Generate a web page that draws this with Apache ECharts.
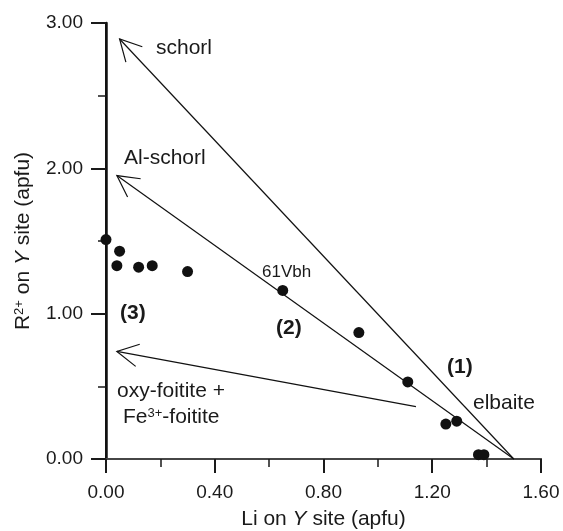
<!DOCTYPE html>
<html>
<head>
<meta charset="utf-8">
<script src="https://cdn.jsdelivr.net/npm/echarts@6/dist/echarts.min.js"></script>
<style>
  html, body { margin: 0; padding: 0; background: #fff; }
  #chart { width: 563px; height: 531px; }
</style>
</head>
<body>
<div id="chart"></div>
<script>
// measured compositions (apfu)
const liValues = [0.00, 0.05, 0.04, 0.12, 0.17, 0.30, 0.65, 0.93, 1.11, 1.25, 1.29, 1.37, 1.39];
const r2Values = [1.51, 1.43, 1.33, 1.32, 1.33, 1.29, 1.16, 0.87, 0.53, 0.24, 0.26, 0.03, 0.03];

// substitution vectors: arrow tip -> start
const trendTips = [[0.05, 2.89], [0.04, 1.95], [0.04, 0.74]];
const trendTails = [[1.50, 0.00], [1.50, 0.00], [1.14, 0.36]];

const xTicks = [0, 0.4, 0.8, 1.2, 1.6];
const yTicks = [0, 1, 2, 3];

const font = 'Liberation Sans, Arial, sans-serif';
const ink = '#1a1a1a';

const chart = echarts.init(document.getElementById('chart'));

const points = liValues.map((v, i) => [v, r2Values[i]]);
const arrows = trendTips.map((t, i) => [t[0], t[1], trendTails[i][0], trendTails[i][1]]);

function note(text, x, y, weight, size) {
    return {
        type: 'text', x: x, y: y, z: 10,
        style: {
            text: text, fill: ink,
            font: (weight || 'normal') + ' ' + (size || 21) + 'px ' + font,
            verticalAlign: 'middle', align: 'left'
        }
    };
}

const option = {
    animation: false,
    backgroundColor: '#fff',
    grid: { left: 106, right: 22, top: 23, bottom: 72, outerBoundsMode: 'none', containLabel: false },
    xAxis: [
        {
            type: 'value', min: xTicks[0], max: xTicks[xTicks.length - 1], interval: 0.4,
            name: 'Li on {i|Y} site (apfu)',
            nameLocation: 'middle', nameGap: 50,
            nameTextStyle: {
                color: ink, fontSize: 21, fontFamily: font, verticalAlign: 'top',
                rich: { i: { fontStyle: 'italic', fontSize: 21, fontFamily: font, color: ink } }
            },
            axisLine: { show: true, onZero: false, lineStyle: { color: ink, width: 2 } },
            axisTick: { show: true, inside: false, length: 14, lineStyle: { color: ink, width: 2 } },
            minorTick: { show: true, splitNumber: 2, length: 8, lineStyle: { color: ink, width: 1.5 } },
            axisLabel: { color: ink, fontSize: 19, fontFamily: font, margin: 24,
                formatter: v => v.toFixed(2) },
            splitLine: { show: false }
        },
        {
            type: 'value', position: 'top', min: xTicks[0], max: xTicks[xTicks.length - 1],
            axisLine: { show: true, lineStyle: { color: '#555', width: 1.5 } },
            axisTick: { show: false }, axisLabel: { show: false }, splitLine: { show: false }
        }
    ],
    yAxis: [
        {
            type: 'value', min: yTicks[0], max: yTicks[yTicks.length - 1], interval: 1,
            name: 'R{sup|2+} on {i|Y} site (apfu)',
            nameLocation: 'middle', nameGap: 72,
            nameTextStyle: {
                color: ink, fontSize: 21, fontFamily: font,
                rich: {
                    i: { fontStyle: 'italic', fontSize: 21, fontFamily: font, color: ink },
                    sup: { fontSize: 13, fontFamily: font, color: ink, verticalAlign: 'top', padding: [0, 0, 8, 0] }
                }
            },
            axisLine: { show: true, onZero: false, lineStyle: { color: ink, width: 2 } },
            axisTick: { show: true, inside: false, length: 15, lineStyle: { color: ink, width: 2 } },
            minorTick: { show: true, splitNumber: 2, length: 8, lineStyle: { color: ink, width: 1.5 } },
            axisLabel: { color: ink, fontSize: 19, fontFamily: font, margin: 23,
                formatter: v => v.toFixed(2) },
            splitLine: { show: false }
        },
        {
            type: 'value', position: 'right', min: yTicks[0], max: yTicks[yTicks.length - 1],
            axisLine: { show: true, lineStyle: { color: '#111', width: 2.5 } },
            axisTick: { show: false }, axisLabel: { show: false }, splitLine: { show: false }
        }
    ],
    series: [
        {
            type: 'custom',
            clip: false,
            data: arrows,
            encode: { x: [0, 2], y: [1, 3] },
            renderItem: function (params, api) {
                const tip = api.coord([api.value(0), api.value(1)]);
                const tail = api.coord([api.value(2), api.value(3)]);
                const ang = Math.atan2(tail[1] - tip[1], tail[0] - tip[0]);
                const len = 24, spread = 28 * Math.PI / 180;
                const b1 = [tip[0] + len * Math.cos(ang - spread), tip[1] + len * Math.sin(ang - spread)];
                const b2 = [tip[0] + len * Math.cos(ang + spread), tip[1] + len * Math.sin(ang + spread)];
                return {
                    type: 'group',
                    children: [
                        { type: 'line', shape: { x1: tip[0], y1: tip[1], x2: tail[0], y2: tail[1] },
                          style: { stroke: '#111', lineWidth: 1.2 } },
                        { type: 'polyline', shape: { points: [b1, tip, b2] },
                          style: { stroke: '#111', fill: null, lineWidth: 1.2 } }
                    ]
                };
            }
        },
        {
            type: 'scatter',
            data: points,
            symbol: 'circle',
            symbolSize: 11,
            itemStyle: { color: '#111', opacity: 1 },
            z: 5
        }
    ],
    graphic: [
        note('schorl', 156, 48),
        note('Al-schorl', 124, 158),
        note('61Vbh', 262, 272, 'normal', 17),
        note('(3)', 120, 313, 'bold'),
        note('(2)', 276, 328, 'bold'),
        note('(1)', 447, 367, 'bold'),
        note('elbaite', 473, 403),
        note('oxy-foitite +', 117, 391),
        {
            type: 'text', x: 123, y: 417, z: 10,
            style: {
                text: 'Fe{sup|3+}-foitite', fill: ink, font: '21px ' + font,
                verticalAlign: 'middle', align: 'left',
                rich: { sup: { fontSize: 13, fontFamily: font, fill: ink, verticalAlign: 'top', padding: [0, 0, 8, 0] } }
            }
        }
    ]
};

chart.setOption(option);
window.addEventListener('resize', function () { chart.resize(); });
</script>
</body>
</html>
